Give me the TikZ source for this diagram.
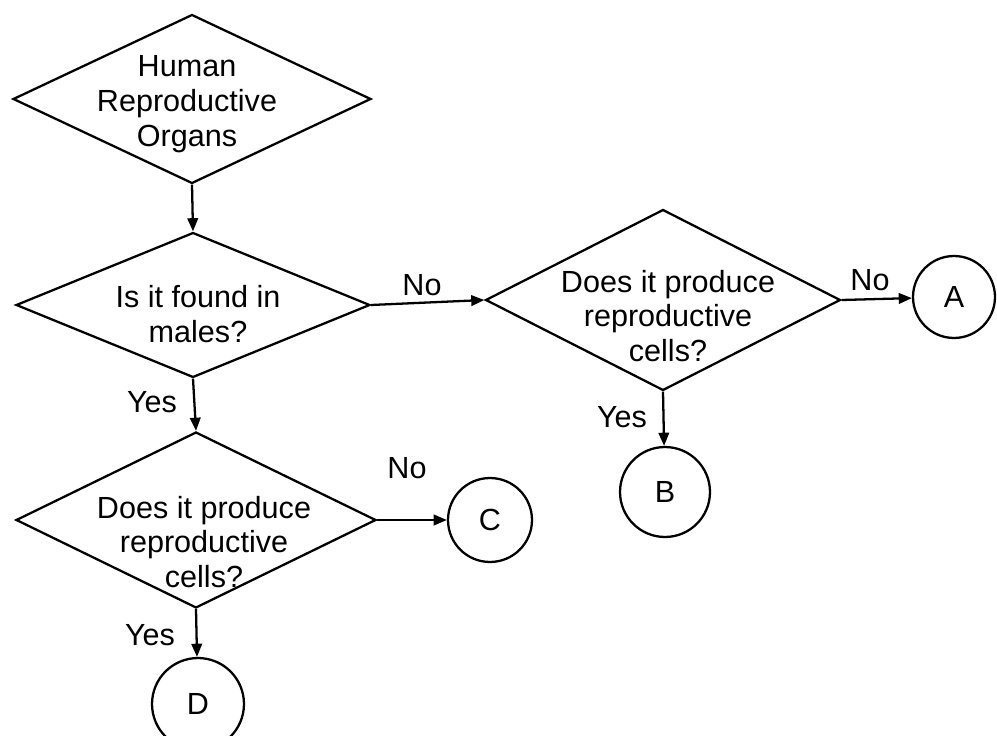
\documentclass[tikz,border=0pt]{standalone}
\usepackage{fontspec}
\setmainfont{Liberation Sans}
\usetikzlibrary{arrows.meta, shapes.geometric}

\begin{document}
\begin{tikzpicture}[
  x=0.02cm, y=-0.02cm,
  font=\fontsize{17.4}{19.8}\selectfont,
  line width=1.3pt,
  dec/.style  = {draw, diamond, inner sep=0pt},
  txt/.style  = {align=center, inner sep=0pt},
  term/.style = {draw, circle, inner sep=0pt},
  lbl/.style  = {inner sep=0pt},
  arr/.style  = {-{Triangle[length=7.5pt, width=6pt]}},
]

\useasboundingbox (0,0) rectangle (997,736);

%% ── decisions ──────────────────────────────────────────────────────────────
\node[dec, minimum width=7.16cm, minimum height=3.38cm] (organs) at (192,99) {};
\node[txt] (organsT) at (187,104) {Human\\Reproductive\\Organs};

\node[dec, minimum width=7.08cm, minimum height=2.9cm] (male) at (193,305) {};
\node[txt] (maleT) at (198,314) {Is it found in\\males?};

\node[dec, minimum width=7.1cm, minimum height=3.62cm] (cellsF) at (663,300) {};
\node[txt] (cellsFT) at (668,316) {Does it produce\\reproductive\\cells?};

\node[dec, minimum width=7.2cm, minimum height=3.52cm] (cellsM) at (196,520) {};
\node[txt] (cellsMT) at (204,542) {Does it produce\\reproductive\\cells?};

%% ── end points ─────────────────────────────────────────────────────────────
\node[term, minimum size=1.64cm] (A) at (954,297) {A};
\node[term, minimum size=1.8cm]  (B) at (665,492) {B};
\node[term, minimum size=1.68cm] (C) at (490,520) {C};
\node[term, minimum size=1.84cm] (D) at (198,704) {D};

%% ── connectors ─────────────────────────────────────────────────────────────
\draw[arr] (organs.south) -- (male.north);
\draw[arr] (male.east) -- (cellsF.west);
\draw[arr] (cellsF.east) -- (A);
\draw[arr] (cellsF.south) -- (B);
\draw[arr] (male.south) -- (cellsM.north);
\draw[arr] (cellsM.east) -- (C);
\draw[arr] (cellsM.south) -- (D);

%% ── answers ────────────────────────────────────────────────────────────────
\node[lbl] (no1)  at (422,285) {No};
\node[lbl] (yes1) at (152,402) {Yes};
\node[lbl] (no2)  at (870,280) {No};
\node[lbl] (yes2) at (622,417) {Yes};
\node[lbl] (no3)  at (407,468) {No};
\node[lbl] (yes3) at (150,635) {Yes};

\end{tikzpicture}
\end{document}
